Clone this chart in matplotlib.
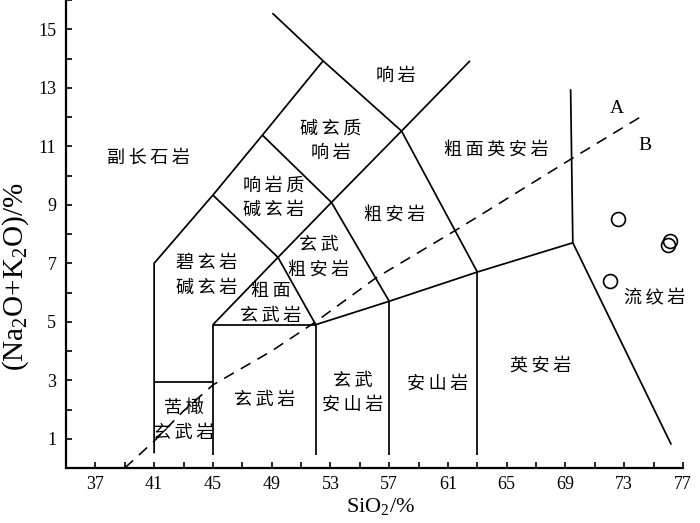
import matplotlib
matplotlib.use("Agg")
import matplotlib.pyplot as plt
from matplotlib.ticker import FixedLocator

plt.rcParams["mathtext.fontset"] = "custom"
plt.rcParams["mathtext.rm"] = "Liberation Serif"
plt.rcParams["mathtext.it"] = "Liberation Serif:italic"

CJK = ["Noto Sans CJK SC", "DejaVu Sans"]
SERIF = "Liberation Serif"

# TAS field boundaries (SiO2, Na2O+K2O)
bound_41_x, bound_41_y = [41, 41, 45], [0.5, 7.0, 9.33]
bound_picro_x, bound_picro_y = [41, 45], [2.95, 2.95]
bound_45_x, bound_45_y = [45, 45, 52], [0.45, 4.9, 4.9]
bound_52_x, bound_52_y = [52, 52], [0.45, 4.9]
bound_57_x, bound_57_y = [57, 57], [0.45, 5.7]
bound_63_x, bound_63_y = [63, 63], [0.45, 6.7]
bound_low_x, bound_low_y = [52, 57, 63, 69.5], [4.9, 5.7, 6.7, 7.7]
bound_69_x, bound_69_y = [69.35, 69.5, 76.2], [12.95, 7.7, 0.8]
bound_tb_x, bound_tb_y = [45, 49.43, 53.07, 57.84], [4.9, 7.2, 9.08, 11.52]
bound_b1_x, bound_b1_y = [52, 49.43, 45], [4.9, 7.2, 9.33]
bound_b2_x, bound_b2_y = [57, 53.07, 48.37], [5.7, 9.08, 11.38]
bound_b3_x, bound_b3_y = [45, 48.37, 52.5], [9.33, 11.38, 13.92]
bound_top_x, bound_top_y = [49.05, 52.5, 57.84, 63], [15.55, 13.92, 11.52, 6.7]
bound_tr_x, bound_tr_y = [57.84, 62.5], [11.52, 13.92]

boundaries = [
    (bound_41_x, bound_41_y), (bound_picro_x, bound_picro_y),
    (bound_45_x, bound_45_y), (bound_52_x, bound_52_y),
    (bound_57_x, bound_57_y), (bound_63_x, bound_63_y),
    (bound_low_x, bound_low_y), (bound_69_x, bound_69_y),
    (bound_tb_x, bound_tb_y), (bound_b1_x, bound_b1_y),
    (bound_b2_x, bound_b2_y), (bound_b3_x, bound_b3_y),
    (bound_top_x, bound_top_y), (bound_tr_x, bound_tr_y),
]

# alkaline / subalkaline divide (dashed)
divide_x = [39.0, 41, 43, 45, 49, 52, 56.1, 61.7, 69.5, 74.2]
divide_y = [0.0, 0.92, 1.95, 2.84, 4.0, 5.0, 6.5, 8.18, 10.6, 12.03]

# samples
sample_sio2 = [72.6, 76.1, 76.0, 72.0]
sample_alk = [8.5, 7.77, 7.62, 6.4]

# field names and where they sit
field_names = ["副长石岩", "碱玄质\n响岩", "响岩", "粗面英安岩", "粗安岩",
               "玄武\n粗安岩", "响岩质\n碱玄岩", "碧玄岩\n碱玄岩", "粗面\n玄武岩",
               "玄武岩", "苦橄\n玄武岩", "玄武\n安山岩", "安山岩", "英安岩", "流纹岩"]
field_x = [40.6, 53.0, 57.45, 64.3, 57.4, 52.2, 49.15, 44.6, 48.95,
           48.5, 43.0, 54.5, 60.3, 67.3, 75.1]
field_y = [10.6, 11.18, 13.4, 10.87, 8.65, 7.2, 9.23, 6.58, 5.62,
           2.32, 1.62, 2.57, 2.9, 3.5, 5.8]

xticks_major = list(range(37, 78, 4))
xticks_minor = list(range(39, 77, 4))
yticks_major = list(range(1, 16, 2))
yticks_minor = list(range(2, 17, 2))


def spaced(s):
    return "\n".join("\u2009".join(line) for line in s.split("\n"))


fig = plt.figure(figsize=(7, 5.23), dpi=100)
ax = fig.add_axes([66 / 700, 55 / 523, 617 / 700, 468 / 523])

for bx, by in boundaries:
    ax.plot(bx, by, color="black", lw=1.25, solid_capstyle="butt")

ax.plot(divide_x, divide_y, color="black", lw=1.15, linestyle=(0, (7, 5)))

ax.plot(sample_sio2, sample_alk, linestyle="none", marker="o", ms=10,
        mfc="none", mec="black", mew=1.2)

for name, x, y in zip(field_names, field_x, field_y):
    ax.text(x, y, spaced(name), ha="center", va="center", fontsize=13,
            family=CJK, linespacing=1.45, color="black")

ax.text(72.5, 12.3, "A", ha="center", va="center", fontsize=14, family=SERIF)
ax.text(74.4, 11.04, "B", ha="center", va="center", fontsize=14, family=SERIF)

ax.set_xlim(35, 77)
ax.set_ylim(0, 16)
ax.xaxis.set_major_locator(FixedLocator(xticks_major))
ax.xaxis.set_minor_locator(FixedLocator(xticks_minor))
ax.yaxis.set_major_locator(FixedLocator(yticks_major))
ax.yaxis.set_minor_locator(FixedLocator(yticks_minor))
ax.tick_params(which="both", direction="in", length=4, width=1.2)
ax.tick_params(axis="x", which="major", pad=6, labelsize=13)
ax.tick_params(axis="y", which="major", pad=7, labelsize=13)
for lab in ax.get_xticklabels() + ax.get_yticklabels():
    lab.set_family(SERIF)

for side in ("top", "right"):
    ax.spines[side].set_visible(False)
for side in ("left", "bottom"):
    ax.spines[side].set_linewidth(1.6)

ax.set_xlabel(r"SiO$_2$/%", fontsize=16, family=SERIF, va="center")
ax.xaxis.set_label_coords(0.509, -0.082)
ax.set_ylabel(r"(Na$_2$O+K$_2$O)/%", fontsize=21, family=SERIF, va="center")
ax.yaxis.set_label_coords(-0.081, 0.408)

fig.savefig("out.png", dpi=100)
